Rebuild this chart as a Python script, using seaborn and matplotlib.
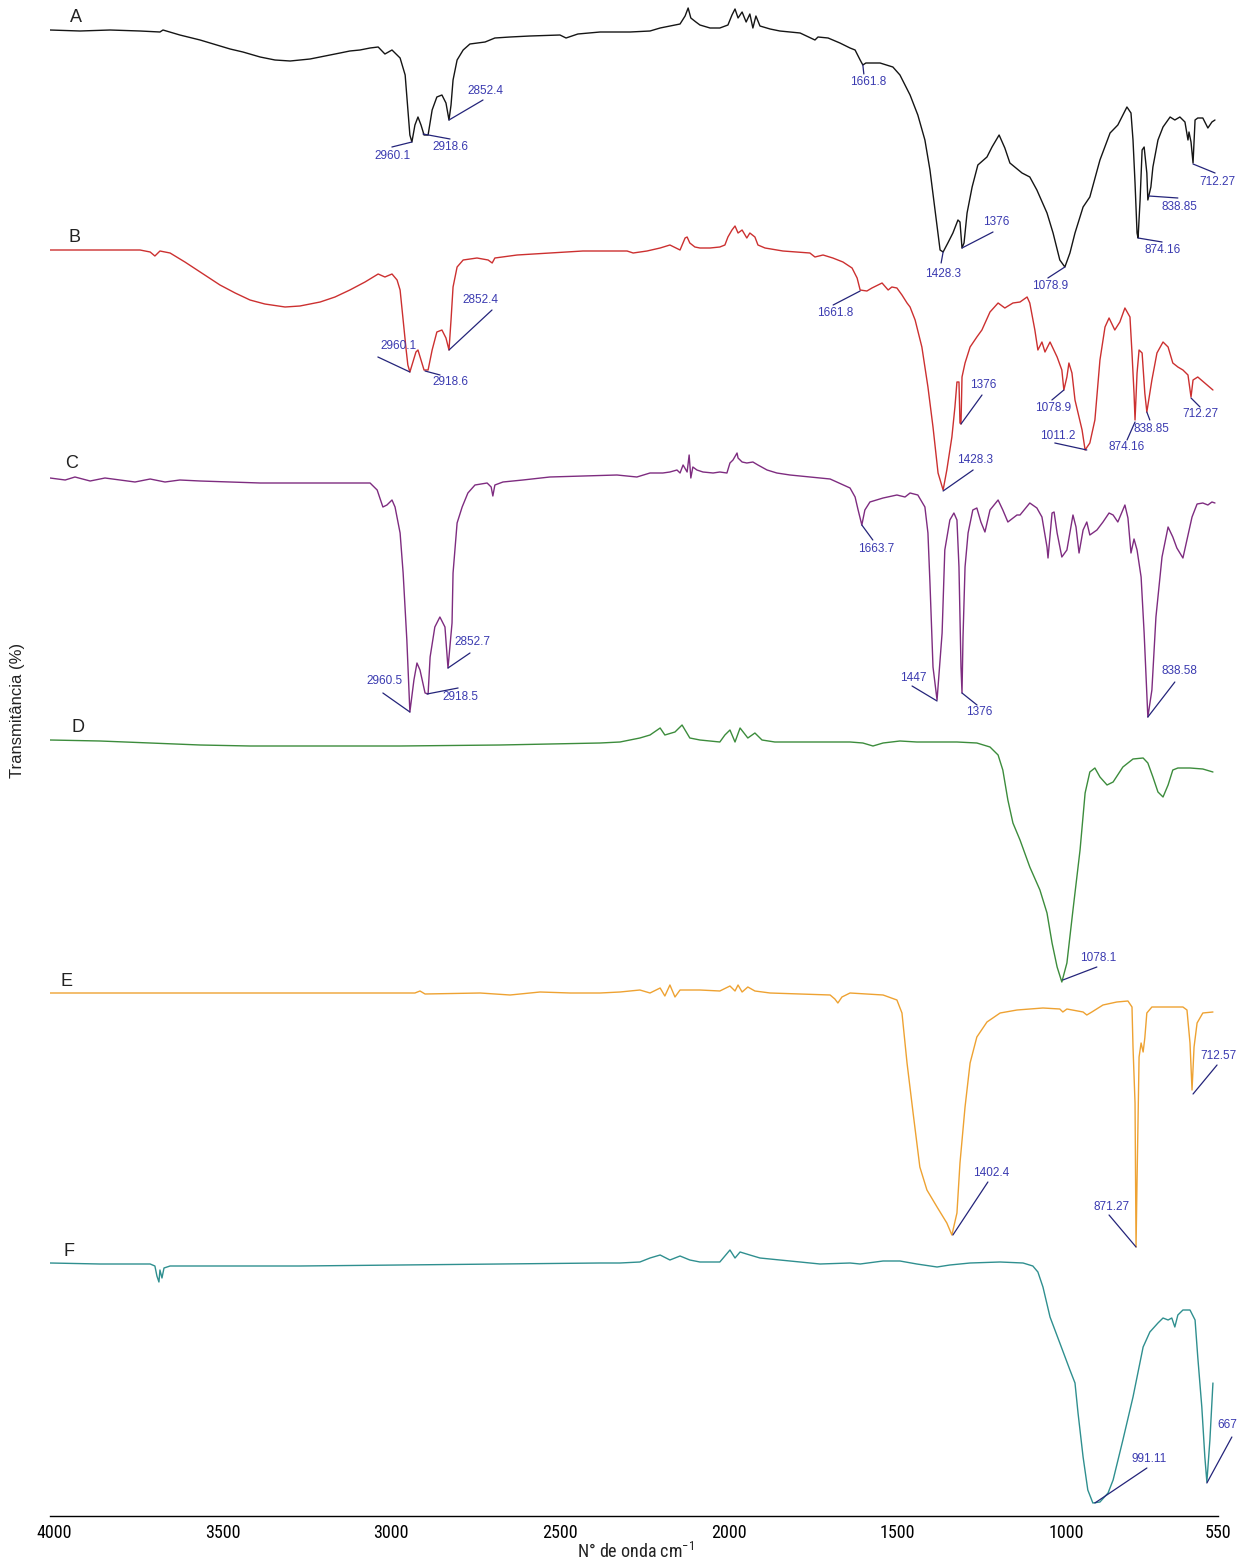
import matplotlib
matplotlib.use("Agg")
import matplotlib.pyplot as plt
import pandas as pd
import seaborn as sns
from matplotlib import font_manager

# ---------------- data: (wavenumber cm-1, offset signal, arb. units, plotted downward) ----------------
spec_A = [(4012,30),(3923,31),(3834,30),(3745,31),(3686,32),(3677,30),(3627,35),(3567,40),(3508,46),(3478,49),(3440,52),
          (3389,57),(3345,60),(3300,61),(3271,60),(3241,59),(3211,57),(3182,55),(3152,53),(3123,51),(3093,50),(3063,48),
          (3039,47),(3019,54),(2998,50),(2974,58),
          (2959,75),(2951,110),(2945,135),(2939,142),(2930,125),(2921,117),(2912,125),(2903,135),(2891,135),(2879,110),
          (2865,97),(2850,95),(2838,103),(2829,120),(2823,105),(2817,80),(2805,60),(2787,50),(2767,44),(2722,42),
          (2693,38),(2648,37),(2589,36),(2500,35),(2482,38),(2464,36),(2447,34),(2381,32),(2292,32),(2233,31),
          (2203,28),(2174,26),(2144,24),(2129,16),(2120,8),(2112,18),(2097,22),(2085,25),(2055,28),(2026,28),
          (2002,25),(1990,15),(1981,9),(1972,18),(1960,12),(1948,22),(1937,14),(1928,28),(1919,16),(1907,26),
          (1877,29),(1848,31),(1788,33),(1744,40),(1735,37),(1705,38),(1670,43),(1640,48),(1625,50),(1610,60),
          (1602,65),(1593,63),(1551,63),(1513,67),(1492,75),(1462,95),(1439,115),(1418,140),(1403,170),(1388,210),
          (1373,250),(1364,252),(1350,243),(1335,233),(1320,220),(1314,222),(1308,248),(1302,243),(1293,213),(1278,187),
          (1261,165),(1234,157),(1219,147),(1198,135),(1181,148),(1166,163),(1130,173),(1107,177),(1086,190),(1056,213),
          (1038,233),(1018,260),(1003,267),(988,253),(973,233),(949,207),(929,197),(899,160),(869,133),(846,125),
          (819,107),(807,113),(801,140),(795,183),(789,233),(786,238),(780,200),(774,150),(768,147),(760,173),
          (757,200),(748,187),(742,167),(727,140),(712,127),(691,117),(677,120),(662,117),(647,122),(638,140),
          (635,132),(629,142),(623,163),(617,120),(609,118),(594,118),(579,128),(567,122),(558,120)]

spec_B = [(4012,250),(3864,250),(3745,250),(3715,252),(3701,256),(3686,251),(3656,253),(3612,262),(3567,272),(3508,285),
          (3463,293),(3419,300),(3375,304),(3315,307),(3271,306),(3211,302),(3167,297),(3123,290),(3078,282),
          (3039,274),(3019,277),(2998,274),(2983,280),(2974,290),(2965,320),
          (2956,350),(2951,365),(2945,372),(2936,362),(2927,352),(2921,350),(2912,360),(2903,370),(2891,370),(2879,350),
          (2865,332),(2850,330),(2838,338),(2829,350),(2823,320),(2817,287),(2805,267),(2787,260),(2746,258),(2713,260),
          (2701,263),(2693,258),(2627,255),(2530,253),(2432,251),(2301,251),(2283,253),(2242,251),(2203,248),(2174,245),
          (2144,250),(2129,238),(2123,237),(2115,243),(2100,247),(2085,248),(2055,248),(2026,247),(2011,245),(2002,237),
          (1990,230),(1981,226),(1972,233),(1960,230),(1946,238),(1937,233),(1922,237),(1913,245),(1892,248),(1839,251),
          (1759,253),(1744,257),(1720,255),(1691,258),(1661,262),(1634,268),(1619,278),(1610,290),(1590,291),(1575,288),
          (1545,283),(1527,290),(1516,287),(1501,288),(1486,295),(1471,303),(1462,307),(1447,320),(1427,347),(1409,387),
          (1394,427),(1379,473),(1364,490),(1353,470),(1338,437),(1329,407),(1323,382),(1317,382),(1314,423),(1311,424),
          (1308,377),(1299,363),(1284,347),(1264,337),(1249,330),(1225,312),(1201,303),(1181,308),(1157,303),(1136,302),
          (1115,297),(1107,303),(1092,330),(1083,350),(1071,342),(1062,352),(1047,342),(1026,357),(1012,370),(1006,390),
          (997,377),(991,363),(982,373),(973,400),(964,413),(952,430),(943,450),(929,443),(914,420),(899,360),
          (884,327),(872,318),(855,330),(840,322),(825,308),(810,317),(804,353),(798,393),(795,420),(789,373),
          (783,350),(774,353),(766,393),(760,412),(745,380),(730,353),(712,342),(697,347),(683,363),(668,367),
          (653,370),(638,375),(629,397),(623,380),(609,377),(588,383),(564,390)]

spec_C = [(4012,478),(3967,480),(3938,477),(3893,481),(3849,478),(3804,480),(3760,482),(3715,479),(3671,482),(3627,480),
          (3567,481),(3478,482),(3389,483),(3271,483),(3182,483),(3063,483),(3042,490),(3025,507),(3013,505),(2998,500),
          (2989,507),(2974,533),(2965,573),(2954,640),(2945,712),(2933,680),(2924,663),(2915,670),(2900,693),(2891,694),
          (2885,657),(2871,627),(2856,617),(2841,627),(2832,668),(2820,623),(2817,573),(2805,523),(2790,507),(2773,493),
          (2752,485),(2716,483),(2704,487),(2699,496),(2693,485),(2669,482),(2610,480),(2530,477),(2432,476),(2331,475),
          (2272,477),(2233,473),(2195,473),(2174,472),(2153,470),(2144,473),(2135,465),(2123,472),(2117,455),(2112,478),
          (2106,467),(2094,470),(2076,472),(2046,473),(2026,472),(2005,473),(1996,463),(1987,460),(1975,453),(1972,458),
          (1960,462),(1946,463),(1928,462),(1913,465),(1886,470),(1857,473),(1818,475),(1788,476),(1699,479),(1640,488),
          (1625,497),(1616,510),(1605,525),(1596,510),(1581,502),(1542,498),(1501,495),(1477,497),(1462,493),(1439,495),
          (1418,507),(1409,533),(1403,583),(1394,667),(1382,700),(1367,633),(1359,550),(1344,520),(1332,513),(1323,520),
          (1317,567),(1311,667),(1308,693),(1305,637),(1299,567),(1290,533),(1276,510),(1264,508),(1252,522),(1240,532),
          (1225,510),(1201,500),(1187,510),(1172,522),(1145,515),(1136,515),(1107,503),(1086,508),(1071,517),(1056,547),
          (1053,558),(1041,513),(1035,512),(1026,533),(1012,557),(997,550),(979,515),(970,527),(961,553),(949,530),
          (938,522),(929,535),(908,530),(890,522),(872,513),(860,515),(846,522),(825,505),(816,518),(807,553),
          (798,539),(789,550),(777,577),(768,633),(757,717),(745,690),(733,617),(715,557),(697,527),(683,537),
          (671,548),(653,558),(641,540),(626,517),(611,504),(594,503),(579,505),(567,502),(558,503)]

spec_D = [(4012,740),(3864,741),(3715,743),(3567,745),(3419,746),(2974,746),(2678,745),(2381,743),(2322,742),(2263,738),
          (2233,735),(2203,728),(2189,735),(2159,732),(2138,725),(2115,738),(2085,740),(2026,742),(2011,735),(1996,730),
          (1981,742),(1966,728),(1943,738),(1922,733),(1901,740),(1863,742),(1788,742),(1640,742),(1602,743),(1572,746),
          (1542,743),(1492,741),(1442,742),(1323,742),(1264,743),(1225,747),(1201,755),(1187,770),(1172,800),(1157,823),
          (1136,840),(1107,867),(1077,890),(1056,913),(1041,943),(1026,967),(1012,982),(997,963),(979,910),(958,850),
          (943,793),(929,772),(914,768),(899,777),(878,785),(860,782),(831,767),(801,759),(771,758),(757,763),
          (742,777),(727,792),(712,797),(697,785),(683,770),(668,768),(632,768),(594,769),(564,772)]

spec_E = [(4012,993),(3715,993),(3271,993),(2930,993),(2915,991),(2900,994),(2737,993),(2648,995),(2559,992),(2470,993),
          (2381,993),(2322,992),(2263,990),(2233,993),(2203,988),(2189,996),(2174,985),(2159,997),(2144,990),(2085,990),
          (2026,991),(1996,986),(1981,991),(1972,985),(1960,992),(1943,987),(1922,991),(1877,993),(1788,994),(1699,995),
          (1685,999),(1676,1003),(1664,997),(1640,993),(1542,995),(1501,1000),(1486,1013),(1471,1063),(1453,1113),(1433,1167),
          (1412,1190),(1382,1207),(1353,1223),(1338,1235),(1323,1213),(1314,1163),(1299,1107),(1284,1063),(1264,1037),(1234,1022),
          (1195,1013),(1145,1010),(1068,1008),(1018,1009),(1009,1012),(997,1009),(949,1012),(938,1015),(923,1012),(890,1005),
          (849,1002),(816,1001),(804,1007),(801,1047),(795,1103),(792,1247),(789,1180),(783,1057),(777,1043),(771,1052),
          (766,1038),(760,1013),(745,1007),(700,1007),(653,1007),(641,1010),(632,1043),(626,1090),(620,1047),(611,1023),
          (594,1013),(564,1012)]

spec_F = [(4012,1263),(3864,1264),(3715,1264),(3701,1266),(3695,1276),(3689,1282),(3686,1270),(3680,1278),(3674,1268),(3656,1266),
          (3419,1266),(3271,1266),(2974,1265),(2678,1264),(2381,1263),(2322,1263),(2263,1262),(2233,1258),(2203,1255),(2174,1260),
          (2144,1256),(2115,1260),(2085,1262),(2026,1262),(2011,1256),(1996,1250),(1981,1258),(1966,1252),(1937,1255),(1907,1258),
          (1848,1260),(1788,1262),(1729,1264),(1640,1263),(1610,1264),(1542,1261),(1492,1261),(1442,1264),(1382,1267),(1344,1265),
          (1284,1263),(1195,1262),(1127,1263),(1098,1266),(1083,1272),(1068,1287),(1047,1317),(1018,1343),(988,1370),(973,1383),
          (964,1413),(949,1457),(935,1490),(920,1503),(899,1502),(875,1493),(860,1480),(831,1440),(801,1397),(771,1347),
          (751,1332),(727,1323),(712,1318),(697,1320),(686,1318),(677,1327),(668,1315),(653,1310),(632,1310),(617,1320),
          (609,1357),(597,1407),(588,1457),(582,1482),(573,1440),(564,1383)]

samples = ["A", "B", "C", "D", "E", "F"]
spectra = [spec_A, spec_B, spec_C, spec_D, spec_E, spec_F]
colors = ["#151515", "#cc3030", "#7e2c80", "#3c8c3c", "#eea232", "#2f8f8f"]

# peak labels: (text, peak wavenumber, peak signal)
peaks_A = [("2960.1", 2939, 142), ("2918.6", 2906, 134), ("2852.4", 2829, 120), ("1661.8", 1602, 65),
           ("1428.3", 1364, 252), ("1376", 1308, 248), ("1078.9", 1003, 267), ("874.16", 786, 238),
           ("838.85", 754, 196), ("712.27", 623, 164)]
peaks_B = [("2960.1", 2945, 372), ("2918.6", 2900, 371), ("2852.4", 2829, 350), ("1661.8", 1610, 291),
           ("1376", 1311, 424), ("1428.3", 1364, 491), ("1078.9", 1006, 390), ("1011.2", 938, 450),
           ("874.16", 795, 422), ("838.85", 760, 412), ("712.27", 629, 398)]
peaks_C = [("2960.5", 2945, 712), ("2918.5", 2894, 694), ("2852.7", 2832, 668), ("1663.7", 1605, 525),
           ("1447", 1382, 701), ("1376", 1308, 693), ("838.58", 757, 717)]
peaks_D = [("1078.1", 1009, 980)]
peaks_E = [("1402.4", 1335, 1235), ("871.27", 792, 1247), ("712.57", 623, 1094)]
peaks_F = [("991.11", 914, 1503), ("667", 582, 1483)]

# leader-line end and label centre offsets (screen pixels, +down)
leaders_A = [(-20, 5, -19, 14), (27, 5, 27, 13), (34, -20, 36, -29), (1, 9, 5, 17), (-2, 11, 0, 22),
             (31, -16, 34, -26), (-17, 11, -15, 19), (24, 4, 25, 12), (29, 2, 31, 11), (22, 9, 24, 18)]
leaders_B = [(-32, -15, -11, -26), (15, 4, 25, 11), (43, -40, 31, -50), (-27, 14, -25, 22), (21, -29, 22, -39),
             (30, -21, 32, -31), (-12, 10, -11, 18), (-32, -7, -29, -14), (-8, 18, -8, 25), (3, 8, 5, 17),
             (9, 9, 9, 16)]
leaders_C = [(-27, -19, -25, -31), (31, -6, 33, 3), (22, -15, 24, -26), (11, 15, 14, 24), (-25, -15, -24, -23),
             (15, 12, 17, 19), (27, -35, 32, -46)]
leaders_D = [(34, -13, 35, -22)]
leaders_E = [(35, -53, 38, -62), (-27, -32, -24, -40), (24, -29, 25, -38)]
leaders_F = [(52, -35, 54, -44), (25, -46, 20, -58)]

x_ticks = [4000, 3500, 3000, 2500, 2000, 1500, 1000, 550]
letter_pos = [(76, 17), (75, 237), (72, 463), (78, 728), (66, 981), (69, 1251)]

# ---------------- styling ----------------
sns.set_style("white")


def pick(names):
    for n in names:
        try:
            font_manager.findfont(font_manager.FontProperties(family=n), fallback_to_default=False)
            return n
        except Exception:
            pass
    return "DejaVu Sans"


regular = pick(["Liberation Sans", "Arial", "DejaVu Sans"])
narrow = pick(["Liberation Sans Narrow", "Roboto Condensed", "Liberation Sans"])
plt.rcParams["font.family"] = [regular, "DejaVu Sans"]
plt.rcParams["mathtext.fontset"] = "custom"
plt.rcParams["mathtext.rm"] = narrow
plt.rcParams["mathtext.it"] = narrow

W, H = 1246, 1564
fig = plt.figure(figsize=(W / 100, H / 100), dpi=100)
ax = fig.add_axes([50 / W, 48 / H, 1168 / W, 1516 / H])

frames = []
for name, spec in zip(samples, spectra):
    d = pd.DataFrame(spec, columns=["wavenumber", "signal"])
    d["sample"] = name
    frames.append(d)
df = pd.concat(frames, ignore_index=True)

sns.lineplot(data=df, x="wavenumber", y="signal", hue="sample", palette=dict(zip(samples, colors)),
             estimator=None, sort=False, legend=False, lw=1.0, ax=ax)

ax.set_xlim(4012, 549)
ax.set_ylim(1516, 0)
for s in ["left", "top", "right"]:
    ax.spines[s].set_visible(False)
ax.spines["bottom"].set_color("black")
ax.spines["bottom"].set_linewidth(1.0)
ax.set_yticks([])
ax.set_xticks(x_ticks)
ax.set_xticklabels([str(t) for t in x_ticks], fontfamily=narrow, fontsize=13)
ax.tick_params(axis="x", direction="out", length=3, width=0.9, pad=3, colors="black")
ax.set_xlabel("")
ax.set_ylabel("")

line_col = "#24247a"
text_col = "#3a3ab0"
for peaks, leaders in zip([peaks_A, peaks_B, peaks_C, peaks_D, peaks_E, peaks_F],
                          [leaders_A, leaders_B, leaders_C, leaders_D, leaders_E, leaders_F]):
    for (lab, w, t), (ldx, ldy, tdx, tdy) in zip(peaks, leaders):
        ax.annotate("", xy=(w, t), xytext=(ldx, -ldy), textcoords="offset pixels",
                    arrowprops=dict(arrowstyle="-", color=line_col, lw=0.9, shrinkA=0, shrinkB=0))
        ax.annotate(lab, xy=(w, t), xytext=(tdx, -tdy), textcoords="offset pixels",
                    ha="center", va="center", fontsize=8.5, color=text_col, fontfamily=regular)

for name, (px, py) in zip(samples, letter_pos):
    fig.text(px / W, 1 - py / H, name, ha="center", va="center", fontsize=13, color="#222222")

fig.text(18 / W, 1 - 710 / H, "Transmitância (%)", rotation=90, ha="center", va="center",
         fontsize=12, color="#222222")
fig.text(636 / W, 1 - 1552 / H, "N° de onda cm$^{-1}$", ha="center", va="center",
         fontsize=13, color="#222222", fontfamily=narrow)

fig.savefig("out.png", dpi=100)
